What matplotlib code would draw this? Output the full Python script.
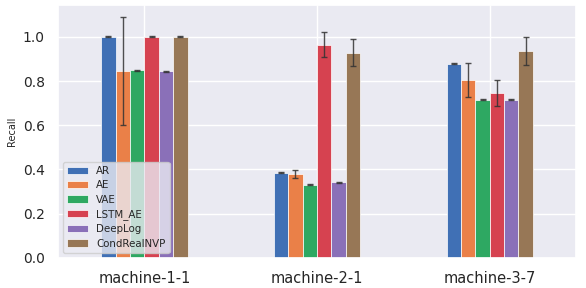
import numpy as np
import matplotlib
matplotlib.use("Agg")
import matplotlib.pyplot as plt
import seaborn as sns

sns.set_theme(style="darkgrid")
plt.rcParams['font.family'] = ['DejaVu Sans']

machines = ["machine-1-1", "machine-2-1", "machine-3-7"]
models = ["AR", "AE", "VAE", "LSTM_AE", "DeepLog", "CondRealNVP"]
colors = ["#4070b5", "#ea8048", "#2ea862", "#d64250", "#8a70b8", "#977756"]

# recall means, one list per model (machine-1-1, machine-2-1, machine-3-7)
ar = [1.0, 0.385, 0.878]
ae = [0.845, 0.380, 0.805]
vae = [0.848, 0.330, 0.716]
lstm_ae = [1.0, 0.965, 0.746]
deeplog = [0.845, 0.342, 0.716]
condrealnvp = [1.0, 0.928, 0.935]

ar_err = [0.002, 0.002, 0.002]
ae_err = [0.245, 0.019, 0.078]
vae_err = [0.002, 0.002, 0.002]
lstm_ae_err = [0.002, 0.058, 0.058]
deeplog_err = [0.002, 0.002, 0.002]
condrealnvp_err = [0.002, 0.060, 0.062]

means = [ar, ae, vae, lstm_ae, deeplog, condrealnvp]
errs = [ar_err, ae_err, vae_err, lstm_ae_err, deeplog_err, condrealnvp_err]

fig, ax = plt.subplots(figsize=(5.86, 2.88), dpi=100)
x = np.arange(len(machines))
w = 0.5 / len(models)
for i, (m, c) in enumerate(zip(models, colors)):
    pos = x - 0.25 + w * (i + 0.5)
    ax.bar(pos, means[i], width=w, color=c, label=m, edgecolor="white", linewidth=0.5,
           yerr=errs[i], capsize=2.5,
           error_kw=dict(ecolor="#333333", elinewidth=1, capthick=1, alpha=0.85))

ax.set_xticks(x)
ax.set_xticklabels(machines, fontsize=10.5)
ax.tick_params(axis="y", labelsize=10)
ax.set_xlim(-0.5, 2.5)
ax.set_ylabel("Recall", fontsize=7)
ax.legend(loc="lower left", fontsize=7.4, handlelength=2.0, labelspacing=0.42)
fig.subplots_adjust(left=0.099, right=0.983, top=0.983, bottom=0.105)
fig.savefig("out.png", dpi=100)
